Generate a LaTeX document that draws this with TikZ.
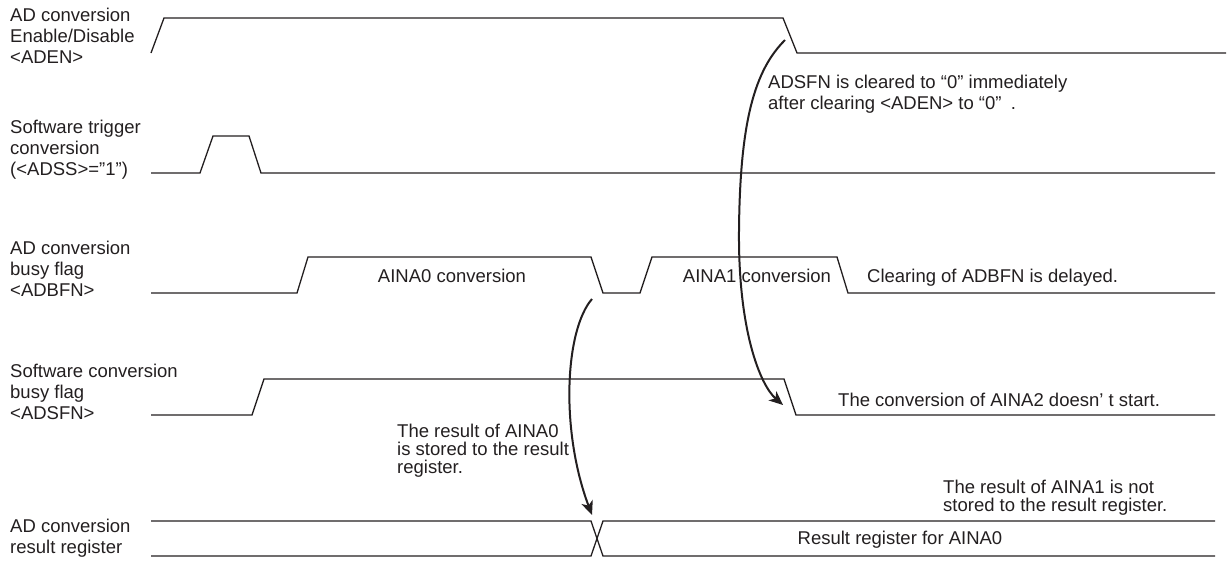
\documentclass[tikz,border=0pt]{standalone}
\usepackage{fontspec}
\setmainfont{Liberation Sans}
\usepackage{xcolor}
\definecolor{cLine}{HTML}{231F20}
\usepackage{tikz}
\usetikzlibrary{positioning,arrows.meta}
\tikzset{
  sig-label/.style={anchor=west,align=left,inner sep=0pt,text=cLine,
    font=\fontsize{18.5}{21}\selectfont},
  note/.style={align=left,inner sep=0pt,text=cLine,
    font=\fontsize{18.5}{18}\selectfont},
  wave/.style={line width=1.3pt,draw=cLine,line join=miter},
  arrow/.style={-{Stealth[length=14pt,width=12pt,inset=4pt]},line width=2pt,draw=cLine},
}
\begin{document}
\begin{tikzpicture}[x=1pt,y=-1pt]
  \useasboundingbox (0,0) rectangle (1228,563);
  % signal names
  \node[sig-label] (l-aden) at (10,35.5) {AD conversion\\Enable/Disable\\<ADEN>};
  \node[sig-label] (l-adss) at (10,150) {Software trigger\\conversion\\(<ADSS>="1")};
  \node[sig-label] (l-adbfn) at (10,269) {AD conversion\\busy flag\\<ADBFN>};
  \node[sig-label] (l-adsfn) at (10,391.5) {Software conversion\\busy flag\\<ADSFN>};
  \node[sig-label] (l-result) at (10,538.5) {AD conversion\\result register};
  % waveforms
  \draw[wave] (151,53) -- (164,18) -- (783,18) -- (797,53) -- (1226,53);
  \draw[wave] (151,173) -- (200,173) -- (213,136) -- (249,136) -- (261,173) -- (1215,173);
  \draw[wave] (151,293) -- (297,293) -- (308,257) -- (591,257) -- (603,293)
    -- (640,293) -- (652,257) -- (837,257) -- (848,293) -- (1215,293);
  \draw[wave] (151,415) -- (252,415) -- (264,379) -- (784,379) -- (796,415) -- (1215,415);
  \draw[wave] (151,521) -- (591,521) -- (603,556) -- (1215,556);
  \draw[wave] (151,556) -- (591,556) -- (603,521) -- (1215,521);
  % texts in the waveforms
  \node[note,anchor=base] (t-aina0) at (452,282) {AINA0 conversion};
  \node[note,anchor=base] (t-aina1) at (757,282) {AINA1 conversion};
  \node[note,anchor=base west] (t-delay) at (867,282) {Clearing of ADBFN is delayed.};
  \node[note,anchor=base west] (t-nostart) at (838,406) {The conversion of AINA2 doesn’ t start.};
  \node[note,anchor=base] (t-reg) at (900,544) {Result register for AINA0};
  \node[note,anchor=west,font=\fontsize{18.5}{21.5}\selectfont] (t-clear) at (768,94)
    {ADSFN is cleared to “0” immediately\\after clearing <ADEN> to “0”\enspace.};
  \node[note,anchor=west] (t-stored) at (397,451)
    {The result of AINA0\\is stored to the result\\register.};
  \node[note,anchor=west] (t-notstored) at (943,498)
    {The result of AINA1 is not\\stored to the result register.};
  % arrow ends
  \coordinate (aden-fall) at (785,40);
  \coordinate (adsfn-fall) at (783,405);
  \coordinate (adbfn-fall) at (592,299);
  \coordinate (reg-cross) at (592,515);
  \draw[arrow] (aden-fall) .. controls (755,70) and (740,120) .. (739,230)
    .. controls (738,330) and (760,385) .. (adsfn-fall);
  \draw[arrow] (adbfn-fall) .. controls (565,330) and (560,430) .. (reg-cross);
\end{tikzpicture}
\end{document}
